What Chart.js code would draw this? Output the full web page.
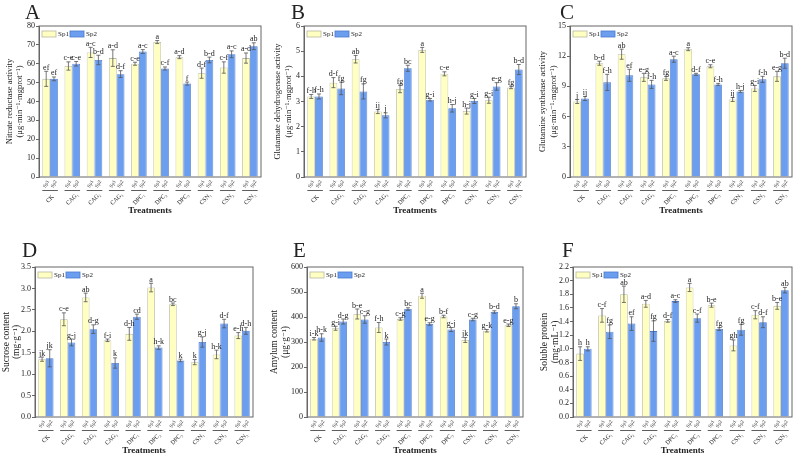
<!DOCTYPE html>
<html>
<head>
<meta charset="utf-8">
<script src="https://cdn.jsdelivr.net/npm/chart.js@4.4.1/dist/chart.umd.min.js"></script>
<style>
html, body { margin: 0; padding: 0; background: #fff; }
#wrap { position: relative; width: 794px; height: 456px; overflow: hidden; }
#wrap canvas { position: absolute; }
</style>
</head>
<body>
<div id="wrap"></div>
<script>
// ---- 数据 ----
const treatments = ['CK', 'CAG₁', 'CAG₂', 'CAG₃', 'DPC₁', 'DPC₂', 'DPC₃', 'CSN₁', 'CSN₂', 'CSN₃'];
const seriesNames = ['Sp1', 'Sp2'];

// A Nitrate reductase
const nrSp1 = [52, 58.8, 66, 63, 60, 71.5, 63.5, 55, 58, 63];
const nrSp2 = [52, 60, 62, 54.5, 66.5, 57.5, 49.5, 62, 65, 69.3];
const nrErr1 = [4, 2.2, 2.7, 4.4, 0.8, 0.8, 0.8, 2.7, 3, 2.7];
const nrErr2 = [1, 1.2, 2.5, 1.8, 1, 0.8, 0.8, 1.5, 1.8, 1.8];
const nrSig1 = ['ef', 'c-e', 'a-c', 'a-d', 'c-e', 'a', 'a-d', 'd-f', 'c-f', 'a-d'];
const nrSig2 = ['ef', 'c-e', 'b-d', 'd-f', 'a-c', 'c-f', 'f', 'b-d', 'a-c', 'ab'];
const nrAxis = [0, 80, 10];
const nrTitle = ['Nitrate reductase activity', '(μg·min⁻¹·mgprot⁻¹)'];

// B Glutamate dehydrogenase
const gdhSp1 = [3.2, 3.75, 4.68, 2.6, 3.5, 5.05, 4.1, 2.62, 3.05, 3.56];
const gdhSp2 = [3.2, 3.52, 3.4, 2.45, 4.32, 3.07, 2.73, 3.02, 3.6, 4.27];
const gdhErr1 = [0.08, 0.2, 0.15, 0.08, 0.15, 0.1, 0.08, 0.12, 0.12, 0.05];
const gdhErr2 = [0.1, 0.25, 0.3, 0.1, 0.12, 0.05, 0.15, 0.1, 0.15, 0.2];
const gdhSig1 = ['f-h', 'd-f', 'ab', 'ij', 'fg', 'a', 'c-e', 'h-j', 'g-i', 'fg'];
const gdhSig2 = ['f-h', 'fg', 'fg', 'j', 'bc', 'g-i', 'h-j', 'g-i', 'e-g', 'b-d'];
const gdhAxis = [0, 6, 1];
const gdhTitle = ['Glutamate dehydrogenase activity', '(μg·min⁻¹·mgprot⁻¹)'];

// C Glutamine synthetase
const gsSp1 = [7.5, 11.3, 12.2, 9.9, 9.8, 12.7, 11.0, 7.7, 8.8, 10.0];
const gsSp2 = [7.8, 9.4, 10.1, 9.2, 11.7, 10.2, 9.2, 8.5, 9.7, 11.3];
const gsErr1 = [0.2, 0.2, 0.5, 0.4, 0.2, 0.15, 0.15, 0.2, 0.3, 0.5];
const gsErr2 = [0.2, 0.8, 0.6, 0.4, 0.3, 0.1, 0.1, 0.1, 0.3, 0.5];
const gsSig1 = ['j', 'b-d', 'ab', 'e-g', 'fg', 'a', 'c-e', 'ij', 'g-i', 'e-g'];
const gsSig2 = ['ij', 'f-h', 'ef', 'f-h', 'a-c', 'd-f', 'f-h', 'h-j', 'f-h', 'b-d'];
const gsAxis = [0, 15, 3];
const gsTitle = ['Glutamine synthetase activity', '(μg·min⁻¹·mgprot⁻¹)'];

// D Sucrose
const sucSp1 = [1.35, 2.28, 2.79, 1.79, 1.94, 3.02, 2.63, 1.28, 1.46, 1.9];
const sucSp2 = [1.37, 1.74, 2.05, 1.26, 2.34, 1.62, 1.32, 1.75, 2.18, 2.01];
const sucErr1 = [0.05, 0.15, 0.1, 0.03, 0.15, 0.1, 0.03, 0.06, 0.1, 0.07];
const sucErr2 = [0.2, 0.08, 0.1, 0.12, 0.06, 0.04, 0.03, 0.12, 0.1, 0.08];
const sucSig1 = ['jk', 'c-e', 'ab', 'f-i', 'd-h', 'a', 'bc', 'k', 'h-k', 'e-h'];
const sucSig2 = ['jk', 'g-j', 'd-g', 'k', 'cd', 'h-k', 'k', 'g-j', 'd-f', 'd-h'];
const sucAxis = [0, 3.5, 0.5];
const sucTitle = ['Sucrose content', '(mg·g⁻¹)'];

// E Amylum
const amySp1 = [313, 355, 412, 358, 392, 485, 402, 308, 345, 367];
const amySp2 = [318, 382, 390, 300, 432, 372, 350, 390, 420, 443];
const amyErr1 = [5, 8, 20, 20, 5, 10, 5, 10, 5, 5];
const amyErr2 = [15, 10, 15, 12, 5, 5, 8, 5, 5, 10];
const amySig1 = ['i-k', 'g-i', 'b-e', 'f-h', 'c-g', 'a', 'b-f', 'jk', 'g-k', 'e-g'];
const amySig2 = ['h-k', 'd-g', 'c-g', 'k', 'bc', 'e-g', 'g-j', 'c-g', 'b-d', 'b'];
const amyAxis = [0, 600, 50];
const amyTitle = ['Amylum content', '(μg·g⁻¹)'];

// F Soluble protein
const spSp1 = [0.93, 1.49, 1.8, 1.66, 1.41, 1.9, 1.64, 1.05, 1.5, 1.63];
const spSp2 = [1.0, 1.25, 1.37, 1.26, 1.7, 1.45, 1.29, 1.28, 1.39, 1.86];
const spErr1 = [0.1, 0.1, 0.12, 0.05, 0.02, 0.06, 0.03, 0.08, 0.06, 0.05];
const spErr2 = [0.03, 0.1, 0.1, 0.15, 0.02, 0.06, 0.02, 0.08, 0.08, 0.04];
const spSig1 = ['h', 'c-f', 'ab', 'a-d', 'd-f', 'a', 'b-e', 'gh', 'c-f', 'b-e'];
const spSig2 = ['h', 'fg', 'ef', 'fg', 'a-c', 'c-f', 'fg', 'fg', 'd-f', 'ab'];
const spAxis = [0, 2.2, 0.2];
const spTitle = ['Soluble protein', '(mg·mL⁻¹)'];

// ---- 样式 ----
const SERIF = '"Liberation Serif", "DejaVu Serif", serif';
const SP1_FILL = '#FFFFC2', SP1_LINE = '#b8b8a4';
const SP2_FILL = '#6C9EF0', SP2_LINE = '#4a78cc';
const INK = '#222';
const FRAME = '#666';

// 面板布局 (页面坐标): box = 画布, plot = 绘图区
const panels = [
  { letter: 'A', box: [0, 0, 265, 225], plot: [39, 26, 261, 177], lx: 25, ly: 19, tx: [10, 20], fs: 8.5,
    s1: nrSp1, s2: nrSp2, err: [nrErr1, nrErr2], sig: [nrSig1, nrSig2], axis: nrAxis, title: nrTitle, dec: 0 },
  { letter: 'B', box: [265, 0, 265, 225], plot: [304, 26, 526, 177], lx: 291, ly: 19, tx: [278, 289], fs: 8.5,
    s1: gdhSp1, s2: gdhSp2, err: [gdhErr1, gdhErr2], sig: [gdhSig1, gdhSig2], axis: gdhAxis, title: gdhTitle, dec: 0 },
  { letter: 'C', box: [530, 0, 264, 225], plot: [570, 26, 792, 177], lx: 560, ly: 19, tx: [543, 554], fs: 8.5,
    s1: gsSp1, s2: gsSp2, err: [gsErr1, gsErr2], sig: [gsSig1, gsSig2], axis: gsAxis, title: gsTitle, dec: 0 },
  { letter: 'D', box: [0, 225, 265, 231], plot: [35, 267, 253, 417], lx: 22, ly: 257, tx: [6, 16], fs: 9.5,
    s1: sucSp1, s2: sucSp2, err: [sucErr1, sucErr2], sig: [sucSig1, sucSig2], axis: sucAxis, title: sucTitle, dec: 1 },
  { letter: 'E', box: [265, 225, 265, 231], plot: [307, 267, 523, 417], lx: 293, ly: 257, tx: [274, 285], fs: 9.5,
    s1: amySp1, s2: amySp2, err: [amyErr1, amyErr2], sig: [amySig1, amySig2], axis: amyAxis, title: amyTitle, dec: 0 },
  { letter: 'F', box: [530, 225, 264, 231], plot: [573, 267, 792, 417], lx: 562, ly: 257, tx: [544, 555], fs: 9.5,
    s1: spSp1, s2: spSp2, err: [spErr1, spErr2], sig: [spSig1, spSig2], axis: spAxis, title: spTitle, dec: 1 }
];

// 误差线、显著性字母、图例、双层 x 轴标签
function makeDeco(p) {
  const ox = p.box[0], oy = p.box[1];
  return {
    id: 'deco' + p.letter,
    afterDatasetsDraw(chart) {
      const ctx = chart.ctx, y = chart.scales.y;
      ctx.save();
      ctx.strokeStyle = '#555';
      ctx.lineWidth = 0.8;
      ctx.fillStyle = INK;
      ctx.font = '8px ' + SERIF;
      ctx.textAlign = 'center';
      ctx.textBaseline = 'alphabetic';
      chart.data.datasets.forEach((ds, di) => {
        chart.getDatasetMeta(di).data.forEach((bar, i) => {
          const v = ds.data[i], e = p.err[di][i];
          const yt = y.getPixelForValue(v + e), yb = y.getPixelForValue(v - e);
          ctx.beginPath();
          ctx.moveTo(bar.x, yt); ctx.lineTo(bar.x, yb);
          ctx.moveTo(bar.x - 2, yt); ctx.lineTo(bar.x + 2, yt);
          ctx.moveTo(bar.x - 2, yb); ctx.lineTo(bar.x + 2, yb);
          ctx.stroke();
          ctx.fillText(p.sig[di][i], bar.x, yt - 1.5);
        });
      });
      ctx.restore();
    },
    afterDraw(chart) {
      const ctx = chart.ctx, area = chart.chartArea;
      const m0 = chart.getDatasetMeta(0), m1 = chart.getDatasetMeta(1);
      ctx.save();
      // 边框
      ctx.strokeStyle = FRAME;
      ctx.lineWidth = 1;
      ctx.strokeRect(area.left, area.top, area.right - area.left, area.bottom - area.top);

      // 图例
      const lx = area.left + 3, ly = area.top + 5;
      ctx.lineWidth = 0.8;
      ctx.fillStyle = SP1_FILL; ctx.strokeStyle = SP1_LINE;
      ctx.fillRect(lx, ly, 14, 6); ctx.strokeRect(lx, ly, 14, 6);
      ctx.fillStyle = SP2_FILL; ctx.strokeStyle = SP2_LINE;
      ctx.fillRect(lx + 28, ly, 14, 6); ctx.strokeRect(lx + 28, ly, 14, 6);
      ctx.fillStyle = INK;
      ctx.font = '7px ' + SERIF;
      ctx.textAlign = 'left'; ctx.textBaseline = 'middle';
      ctx.fillText(seriesNames[0], lx + 16, ly + 3.3);
      ctx.fillText(seriesNames[1], lx + 44, ly + 3.3);

      // x 轴: Sp 小标签 + 下划线 + 处理名
      const sy = area.bottom;
      ctx.strokeStyle = '#333';
      ctx.lineWidth = 0.8;
      ctx.textAlign = 'center';
      chart.data.labels.forEach((lab, i) => {
        const b1 = m0.data[i], b2 = m1.data[i];
        [b1, b2].forEach((bar, k) => {
          ctx.save();
          ctx.translate(bar.x, sy + 7);
          ctx.rotate(-Math.PI / 3);
          ctx.font = '5px ' + SERIF;
          ctx.fillText(seriesNames[k], 0, 0);
          ctx.restore();
        });
        ctx.beginPath();
        ctx.moveTo(b1.x - b1.width / 2, sy + 13.5);
        ctx.lineTo(b2.x + b2.width / 2, sy + 13.5);
        ctx.stroke();
        ctx.save();
        ctx.translate((b1.x + b2.x) / 2, sy + 22);
        ctx.rotate(-Math.PI / 4);
        ctx.font = '6px ' + SERIF;
        ctx.fillText(lab, 0, 0);
        ctx.restore();
      });
      ctx.font = 'bold 9px ' + SERIF;
      ctx.fillText('Treatments', (area.left + area.right) / 2, sy + 34);

      // y 轴标题 (两行)
      const cy = (area.top + area.bottom) / 2;
      ctx.font = p.fs + 'px ' + SERIF;
      p.title.forEach((t, k) => {
        ctx.save();
        ctx.translate(p.tx[k] - ox, cy);
        ctx.rotate(-Math.PI / 2);
        ctx.fillText(t, 0, 0);
        ctx.restore();
      });

      // 面板字母
      ctx.font = '21px ' + SERIF;
      ctx.textAlign = 'left'; ctx.textBaseline = 'alphabetic';
      ctx.fillText(p.letter, p.lx - ox, p.ly - oy);
      ctx.restore();
    }
  };
}

const wrap = document.getElementById('wrap');
const YW = 22;

panels.forEach(p => {
  const [bx, by, bw, bh] = p.box;
  const [l, t, r, b] = p.plot;
  const cv = document.createElement('canvas');
  cv.width = bw; cv.height = bh;
  cv.style.left = bx + 'px'; cv.style.top = by + 'px';
  cv.style.width = bw + 'px'; cv.style.height = bh + 'px';
  wrap.appendChild(cv);

  new Chart(cv, {
    type: 'bar',
    data: {
      labels: treatments,
      datasets: [
        { label: seriesNames[0], data: p.s1, backgroundColor: SP1_FILL, borderColor: SP1_LINE, borderWidth: 0.8,
          categoryPercentage: 0.7, barPercentage: 1 },
        { label: seriesNames[1], data: p.s2, backgroundColor: SP2_FILL, borderColor: SP2_LINE, borderWidth: 0.8,
          categoryPercentage: 0.7, barPercentage: 1 }
      ]
    },
    options: {
      responsive: false,
      animation: false,
      devicePixelRatio: 1,
      layout: { padding: { left: l - bx - YW, top: t - by, right: bx + bw - r, bottom: by + bh - b } },
      plugins: { legend: { display: false }, tooltip: { enabled: false } },
      scales: {
        x: {
          offset: true,
          grid: { display: false },
          border: { display: false },
          ticks: { display: false },
          afterFit: s => { s.height = 0; }
        },
        y: {
          min: p.axis[0], max: p.axis[1],
          ticks: { stepSize: p.axis[2], color: INK, padding: 1, font: { family: SERIF, size: 8 },
                   callback: v => Number(v).toFixed(p.dec) },
          grid: { drawOnChartArea: false, tickLength: 3, color: FRAME },
          border: { color: FRAME },
          afterFit: s => { s.width = YW; }
        }
      }
    },
    plugins: [makeDeco(p)]
  });
});
</script>
</body>
</html>
